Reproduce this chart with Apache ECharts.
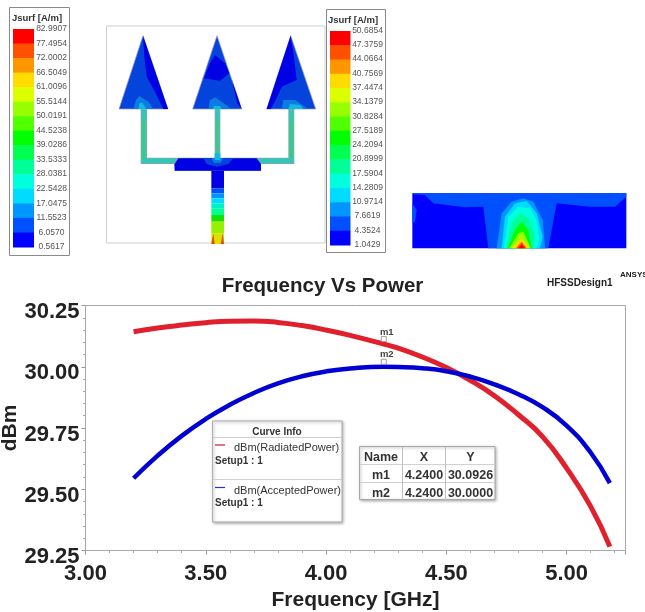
<!DOCTYPE html>
<html><head><meta charset="utf-8">
<style>html,body{margin:0;padding:0;background:#fff}#c{width:645px;height:612px;filter:blur(.45px)}</style>
<script src="https://cdn.jsdelivr.net/npm/echarts@6/dist/echarts.min.js"></script>
</head><body><div id="c"></div>
<script>
const frequency=[3.2,3.3,3.4,3.5,3.6,3.7,3.8,3.9,4.0,4.1,4.24,4.3,4.4,4.5,4.6,4.7,4.8,4.9,5.0,5.1,5.18];
const radiatedPower=[30.143,30.158,30.170,30.180,30.186,30.187,30.181,30.168,30.150,30.128,30.0926,30.076,30.040,29.997,29.945,29.882,29.804,29.715,29.586,29.430,29.266];
const acceptedPower=[29.545,29.637,29.718,29.787,29.845,29.893,29.932,29.961,29.981,29.993,30.000,29.999,29.994,29.982,29.960,29.928,29.888,29.835,29.760,29.650,29.525];
const markerNames=['m1','m2'];
const markerX=[4.24,4.24];
const markerY=[30.0926,30.0];
const tableHeader=['Name','X','Y'];
const tableX=['4.2400','4.2400'];
const tableY=['30.0926','30.0000'];
const scale1=['82.9907','77.4954','72.0002','66.5049','61.0096','55.5144','50.0191','44.5238','39.0286','33.5333','28.0381','22.5428','17.0475','11.5523','6.0570','0.5617'];
const scale2=['50.6854','47.3759','44.0664','40.7569','37.4474','34.1379','30.8284','27.5189','24.2094','20.8999','17.5904','14.2809','10.9714','7.6619','4.3524','1.0429'];
const scaleColors=['#ff0000','#ff5000','#ff9600','#ffdc00','#dcff00','#96ff00','#50ff00','#00ff00','#00ff50','#00ff96','#00ffdc','#00dcff','#0096ff','#0050ff','#0000ff'];

const BF='"Liberation Sans",Arial,sans-serif';
const g=[];
const rect=(x,y,w,h,fill,stroke,extra)=>g.push(Object.assign({type:'rect',shape:{x,y,width:w,height:h},style:{fill:fill||'transparent',stroke:stroke||null,lineWidth:stroke?1:0},silent:true},extra||{}));
const txt=(x,y,t,font,color,align)=>g.push({type:'text',x,y,style:{text:t,font,fill:color||'#222',align:align||'center',verticalAlign:'middle'},silent:true,z:20});
const zp=(ox,oy,pts)=>pts.map(p=>[ox+p[0]/3,oy+p[1]/3]);
const poly=(ox,oy,pts,fill)=>g.push({type:'polygon',shape:{points:zp(ox,oy,pts)},style:{fill},silent:true});
const shadow={shadowBlur:3,shadowColor:'rgba(0,0,0,.35)',shadowOffsetX:1,shadowOffsetY:1};

function colorbar(bx,by,bw,bh,sx,sw,sy,sh,lx,ly0,ly1,tx,labels){
  rect(bx,by,bw,bh,'#fff','#8a8a8a');
  txt(tx,by+10.5,'Jsurf [A/m]','bold 9.5px '+BF,'#333');
  const h=sh/scaleColors.length;
  scaleColors.forEach((c,i)=>rect(sx,sy+i*h,sw,h+.5,c));
  labels.forEach((t,i)=>txt(lx,ly0+(ly1-ly0)*i/(labels.length-1),t,'8.5px '+BF,'#555'));
}
colorbar(9.5,7.5,60,248,13,21,29,218,51.5,29,246.7,37,scale1);
colorbar(326.5,9.5,59,243,330,20.5,31,214,367.5,30.6,244.7,353,scale2);

// antenna drawing
const B0='#0000e4',B1='#0544dc',B2='#0a7ce4',C='#12b8e0',T='#2cc8b8',G='#34cc88';
rect(106.5,26,218.5,217,'#fff','#cfcfcf');
const A=(pts,f)=>poly(100,20,pts,f);
[[[129,47],[57,267],[204,267]],[[351,47],[278,267],[425,267]],[[572,47],[500,267],[647,267]]].forEach(t=>{
  g.push({type:'polygon',shape:{points:zp(100,20,t)},style:{fill:B1,stroke:'#9a9ab0',lineWidth:.7},silent:true});
});
A([[129,47],[204,267],[190,267],[165,215],[140,170],[133,110]],B0);
A([[100,267],[108,240],[118,228],[145,245],[160,267]],B2);
A([[115,267],[118,250],[128,248],[138,267]],C);
A([[345,105],[375,130],[388,160],[360,183],[312,175],[330,130]],B0);
A([[395,178],[425,267],[412,250]],B0);
A([[325,267],[330,240],[345,232],[365,245],[395,267]],B2);
A([[338,267],[342,258],[360,258],[365,267]],C);
A([[572,47],[582,110],[590,180],[545,200],[530,235],[512,267],[500,267]],B0);
A([[545,267],[550,240],[585,240],[625,267]],B2);
A([[565,267],[570,252],[600,255],[610,267]],C);
// stems and branches
A([[122,267],[141,267],[141,413],[344,413],[344,267],[361,267],[361,413],[565,413],[565,267],[583,267],[583,432],[470,432],[483,452],[372,452],[334,452],[224,452],[222,432],[122,432]],'#70b0b4');
A([[126,270],[137,270],[137,416],[126,428]],G);
A([[348,270],[357,270],[357,416],[348,416]],G);
A([[569,270],[579,270],[579,428],[569,416]],G);
A([[126,270],[137,270],[137,300],[126,300]],T);
A([[348,270],[357,270],[357,300],[348,300]],T);
A([[569,270],[579,270],[579,300],[569,300]],T);
A([[126,416],[224,416],[224,428],[126,428]],T);
A([[480,416],[579,416],[579,428],[480,428]],T);
A([[235,415],[470,415],[483,432],[483,452],[224,452],[224,432]],B0);
A([[310,415],[400,415],[385,432],[350,440],[320,432]],B1);
A([[335,415],[370,415],[362,428],[342,428]],B2);
A([[344,400],[361,400],[361,420],[344,420]],C);
[[452,505,B0],[505,520,'#0050ff'],[520,535,'#0096ff'],[535,550,'#00dcff'],[550,565,'#00f0c8'],[565,585,'#00ff96'],[585,605,'#18e000'],[605,640,'#96f000'],[640,672,'#dce000']].forEach(r=>{
  A([[334,r[0]],[372,r[0]],[372,r[1]],[334,r[1]]],r[2]);
});
A([[334,672],[340,640],[344,672]],'#e05000');
A([[362,672],[368,640],[372,672]],'#e05000');

// second field plot
const P=(pts,f)=>poly(320,0,pts,f);
P([[277,580],[919,580],[919,745],[277,745]],'#0000ff');
P([[277,580],[919,580],[919,590],[885,620],[810,620],[710,610],[685,745],[505,745],[490,620],[435,622],[340,610],[315,585],[277,583]],'#0050ff');
P([[277,610],[290,630],[285,665],[277,670]],'#0050ff');
P([[530,745],[545,640],[575,605],[610,595],[640,605],[668,660],[675,745]],'#0096ff');
P([[545,745],[555,650],[585,610],[620,603],[650,640],[668,710],[660,745]],'#00dcff');
P([[552,745],[565,650],[595,620],[630,625],[650,660],[658,720],[650,745]],'#00ffdc');
P([[558,745],[575,670],[600,640],[625,655],[642,700],[640,745]],'#00ff96');
P([[563,745],[585,690],[605,665],[625,690],[635,745]],'#00ff00');
P([[568,745],[595,700],[610,695],[632,745]],'#96ff00');
P([[575,745],[605,715],[628,745]],'#ffdc00');
P([[588,745],[605,725],[620,745]],'#ff5000');
P([[595,745],[605,733],[615,745]],'#ff0000');

txt(547,283,'HFSSDesign1','bold 10px '+BF,'#222','left');
txt(620,275,'ANSYS','bold 8px '+BF,'#222','left');

// curve info box
rect(212.5,421,129.5,101,'#fff','#b0b0b0',{style:Object.assign({fill:'#fff',stroke:'#b0b0b0',lineWidth:1},shadow),z:15});
const hl=(x0,x1,y)=>g.push({type:'line',shape:{x1:x0,y1:y,x2:x1,y2:y},style:{stroke:'#d0d0d0',lineWidth:1},silent:true,z:16});
const vl=(x,y0,y1)=>g.push({type:'line',shape:{x1:x,y1:y0,x2:x,y2:y1},style:{stroke:'#c0c0c0',lineWidth:1},silent:true,z:16});
hl(213,342,437.5);hl(213,342,479.5);
txt(277,432,'Curve Info','bold 10px '+BF,'#333');
txt(234,447.5,'dBm(RadiatedPower)','11px '+BF,'#333','left');
txt(215,461.5,'Setup1 : 1','bold 10px '+BF,'#333','left');
txt(234,490.5,'dBm(AcceptedPower)','11px '+BF,'#333','left');
txt(215,503.5,'Setup1 : 1','bold 10px '+BF,'#333','left');
g.push({type:'line',shape:{x1:215,y1:445,x2:225,y2:445},style:{stroke:'#c02030',lineWidth:1.2},silent:true,z:16});
g.push({type:'line',shape:{x1:215,y1:487.5,x2:225,y2:487.5},style:{stroke:'#3030c0',lineWidth:1.2},silent:true,z:16});

// marker table
rect(359.5,446.5,135.5,53,'#fff','#a8a8a8',{style:Object.assign({fill:'#fff',stroke:'#a8a8a8',lineWidth:1},shadow),z:15});
hl(360,495,464.5);hl(360,495,482.5);vl(402.5,447,500);vl(445.5,447,500);
const cols=[381,424,470.5];
const tf='bold 12.5px '+BF;
tableHeader.forEach((t,i)=>txt(cols[i],458,t,tf,'#333'));
markerNames.forEach((n,r)=>{
  const y=476+r*18;
  txt(cols[0],y,n,tf,'#333');
  txt(cols[1],y,tableX[r],tf,'#333');
  txt(cols[2],y,tableY[r],tf,'#333');
});

const lineSeries=(name,vals,color,width,mi)=>({
  name,type:'line',smooth:.5,showSymbol:false,silent:true,
  data:frequency.map((f,i)=>[f,vals[i]]),
  lineStyle:{color,width,cap:'butt'},itemStyle:{color},
  markPoint:{silent:true,symbol:'rect',symbolSize:[5,5],symbolOffset:[0,-5],
    itemStyle:{color:'#fff',borderColor:'#888',borderWidth:.8},
    label:{show:true,position:'top',distance:-1,offset:[3,0],color:'#444',fontFamily:BF,fontSize:9.5,fontWeight:'bold',formatter:markerNames[mi]},
    data:[{coord:[markerX[mi],markerY[mi]]}],animation:false}
});

const chart=echarts.init(document.getElementById('c'),null,{renderer:'canvas'});
const tickStyle={show:true,inside:false,length:4,lineStyle:{color:'#999',width:1}};
const minorStyle={show:true,splitNumber:5,length:2.5,lineStyle:{color:'#aaa',width:1}};
chart.setOption({
  animation:false,backgroundColor:'#fff',
  title:{text:'Frequency Vs Power',left:317.5,top:271,textAlign:'center',textStyle:{fontFamily:BF,fontWeight:'bold',fontSize:20.5,color:'#222'}},
  grid:{left:85.5,right:19.5,top:305.5,bottom:61.5,outerBoundsMode:'none',show:true,borderColor:'#a8a8a8',borderWidth:1,backgroundColor:'#fff'},
  xAxis:{type:'value',min:3,max:5.245,interval:.5,
    name:'Frequency [GHz]',nameLocation:'middle',nameGap:39,nameMoveOverlap:false,
    nameTextStyle:{fontFamily:BF,fontWeight:'bold',fontSize:21,color:'#222'},
    axisLine:{show:false},axisTick:tickStyle,minorTick:minorStyle,splitLine:{show:false},minorSplitLine:{show:false},
    axisLabel:{showMaxLabel:false,margin:12,fontFamily:BF,fontWeight:'bold',fontSize:22,color:'#222',formatter:v=>v.toFixed(2)}},
  yAxis:{type:'value',min:29.25,max:30.25,interval:.25,
    name:'dBm',nameLocation:'middle',nameGap:65,nameRotate:90,nameMoveOverlap:false,
    nameTextStyle:{fontFamily:BF,fontWeight:'bold',fontSize:21,color:'#222'},
    axisLine:{show:false},axisTick:tickStyle,minorTick:minorStyle,splitLine:{show:false},minorSplitLine:{show:false},
    axisLabel:{margin:6,verticalAlign:'top',lineHeight:13,fontFamily:BF,fontWeight:'bold',fontSize:22,color:'#222',formatter:v=>v.toFixed(2)}},
  series:[lineSeries('dBm(RadiatedPower)',radiatedPower,'#e0202c',5,0),lineSeries('dBm(AcceptedPower)',acceptedPower,'#0000d4',4.5,1)],
  graphic:{elements:g}
});
</script></body></html>
